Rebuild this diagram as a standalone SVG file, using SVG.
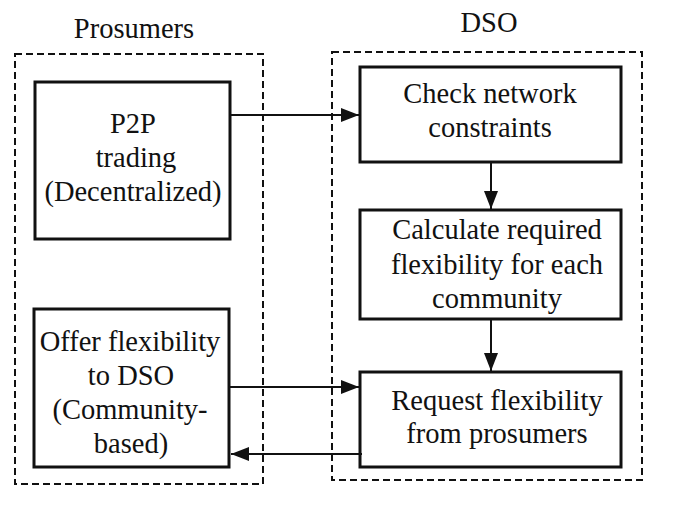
<svg xmlns="http://www.w3.org/2000/svg" width="680" height="522" viewBox="0 0 680 522">
<style>
text{font-family:"Liberation Serif","Times New Roman",serif;font-size:28.5px;fill:#111;text-anchor:middle}
.box{fill:#fff;stroke:#111;stroke-width:3}
.grp{fill:none;stroke:#111;stroke-width:2;stroke-dasharray:7 4}
.con{fill:none;stroke:#111;stroke-width:2}
</style>
<defs>
<marker id="ah" markerUnits="userSpaceOnUse" markerWidth="18" markerHeight="14" refX="18" refY="7" orient="auto">
<path d="M0,0 L18,7 L0,14 Z" fill="#111"/>
</marker>
</defs>
<rect width="680" height="522" fill="#fff"/>
<g id="prosumers-group">
<rect class="grp" x="15" y="54" width="248" height="430"/>
<text x="134" y="38">Prosumers</text>
</g>
<g id="dso-group">
<rect class="grp" x="332" y="52" width="310" height="428"/>
<text x="489" y="32">DSO</text>
</g>
<g id="p2p">
<rect class="box" x="35" y="82" width="195" height="157"/>
<text x="133" y="133">P2P</text>
<text x="136" y="167">trading</text>
<text x="133" y="201">(Decentralized)</text>
</g>
<g id="offer">
<rect class="box" x="34" y="309" width="195" height="158"/>
<text x="130" y="351">Offer flexibility</text>
<text x="131" y="385">to DSO</text>
<text x="130" y="419">(Community-</text>
<text x="131" y="453">based)</text>
</g>
<g id="check">
<rect class="box" x="360" y="67" width="261" height="95"/>
<text x="490" y="103">Check network</text>
<text x="490" y="137">constraints</text>
</g>
<g id="calculate">
<rect class="box" x="360" y="210" width="261" height="109"/>
<text x="497" y="239">Calculate required</text>
<text x="497" y="274">flexibility for each</text>
<text x="497" y="308">community</text>
</g>
<g id="request">
<rect class="box" x="360" y="372" width="261" height="95"/>
<text x="497" y="410">Request flexibility</text>
<text x="497" y="443">from prosumers</text>
</g>
<g id="connectors">
<line class="con" x1="230" y1="115" x2="359" y2="115" marker-end="url(#ah)"/>
<line class="con" x1="491" y1="162" x2="491" y2="209" marker-end="url(#ah)"/>
<line class="con" x1="491" y1="319" x2="491" y2="371" marker-end="url(#ah)"/>
<line class="con" x1="229" y1="387" x2="359" y2="387" marker-end="url(#ah)"/>
<line class="con" x1="362" y1="454" x2="231" y2="454" marker-end="url(#ah)"/>
</g>
</svg>
